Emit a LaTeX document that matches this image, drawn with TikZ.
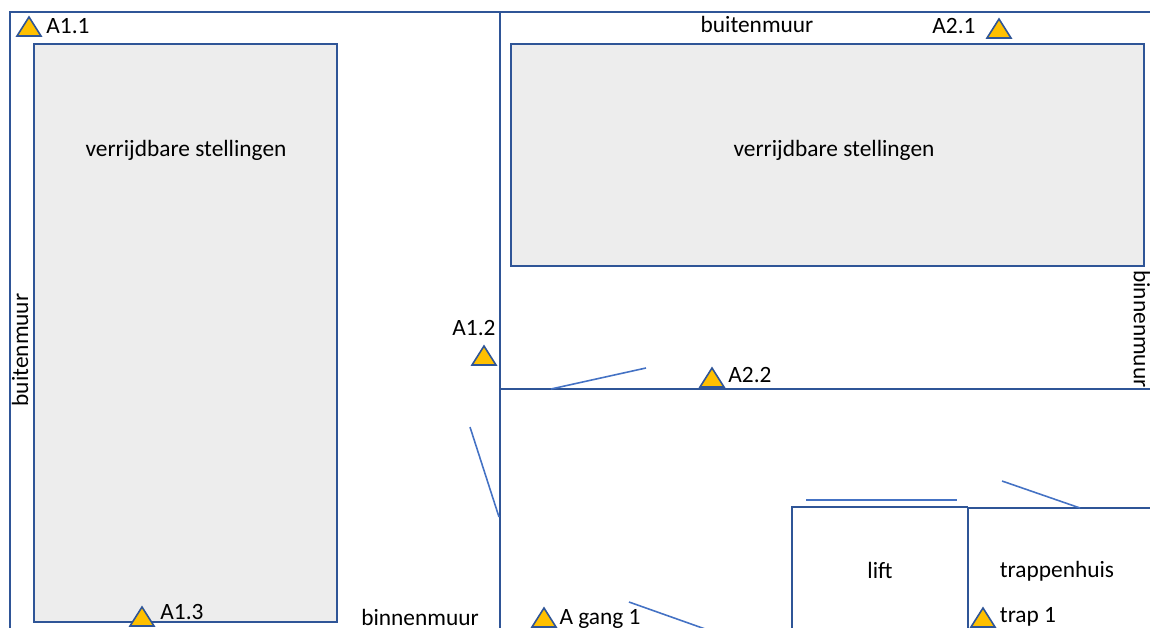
\documentclass[tikz,border=0pt]{standalone}
\usepackage{fontspec}
\setmainfont{Carlito}
\definecolor{muur}{HTML}{2F5597}
\definecolor{deur}{HTML}{4472C4}
\definecolor{stelling}{HTML}{EDEDED}
\definecolor{sensor}{HTML}{FFC000}
\tikzset{
  wand/.style={draw=muur,line width=0.9pt},
  deurlijn/.style={draw=deur,line width=0.9pt},
  stellingbak/.style={wand,fill=stelling},
  tekst/.style={font=\fontsize{13.3pt}{15pt}\selectfont,text=black,inner sep=0pt},
  driehoek/.pic={\filldraw[muur,fill=sensor,line width=0.9pt,line join=miter] (-12,0) -- (0,-19) -- (12,0) -- cycle;}
}
\begin{document}
\begin{tikzpicture}[x=0.02cm,y=-0.02cm]
\useasboundingbox (0,0) rectangle (1150,628);
\clip (0,0) rectangle (1150,628);
% stellingen
\draw[stellingbak] (34,44) rectangle (337,622);
\draw[stellingbak] (511,44) rectangle (1144,266);
% muren
\draw[wand] (10,628) -- (10,12) -- (1150,12);
\draw[wand] (500,12) -- (500,628);
\draw[wand] (500,389) -- (1150,389);
% lift en trappenhuis
\draw[wand] (792,628) -- (792,507) -- (968,507);
\draw[wand] (968,628) -- (968,507);
\draw[wand,line width=1.3pt] (968,508) -- (1150,508);
% deuren
\draw[deurlijn] (551,389) -- (646,368);
\draw[deurlijn] (470,427) -- (499,517);
\draw[deurlijn] (806,500) -- (957,500);
\draw[deurlijn] (1002,481) -- (1080,508);
\draw[deurlijn] (629,602) -- (708,630);
% sensoren
\pic at (29,36) {driehoek};
\pic at (999,38) {driehoek};
\pic at (484,365) {driehoek};
\pic at (712,387) {driehoek};
\pic at (142,626) {driehoek};
\pic at (544,627) {driehoek};
\pic at (983,627) {driehoek};
% labels
\node[tekst] at (186,150) {verrijdbare stellingen};
\node[tekst] at (834,150) {verrijdbare stellingen};
\node[tekst] at (757,24) {buitenmuur};
\node[tekst] at (420,617) {binnenmuur};
\node[tekst,rotate=90] at (20,350) {buitenmuur};
\node[tekst,rotate=-90] at (1142,329) {binnenmuur};
\node[tekst] at (68,26) {A1.1};
\node[tekst] at (954,26) {A2.1};
\node[tekst] at (474,328) {A1.2};
\node[tekst] at (750,375) {A2.2};
\node[tekst] at (182,612) {A1.3};
\node[tekst] at (600,619) {A gang 1};
\node[tekst] at (880,570) {lift};
\node[tekst] at (1057,571) {trappenhuis};
\node[tekst] at (1028,617) {trap 1};
\end{tikzpicture}
\end{document}
